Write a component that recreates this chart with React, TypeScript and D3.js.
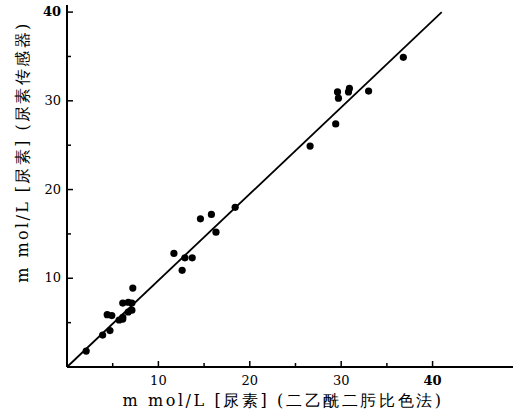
import React, { useRef, useEffect } from "react";
import * as d3 from "d3";

// colorimetric method (x) vs urea sensor (y), mmol/L
const xVals = [2.1, 3.9, 4.7, 4.4, 4.9, 5.7, 6.1, 6.1, 6.7, 7.1, 6.1, 6.7, 7.1, 7.2,
  11.7, 12.6, 12.9, 13.7, 14.6, 15.8, 16.3, 18.4,
  26.6, 29.4, 29.6, 29.7, 30.9, 30.8, 33.0, 36.8];
const yVals = [1.8, 3.6, 4.1, 5.9, 5.8, 5.3, 5.4, 5.6, 6.2, 6.4, 7.2, 7.3, 7.2, 8.9,
  12.8, 10.9, 12.3, 12.3, 16.7, 17.2, 15.2, 18.0,
  24.9, 27.4, 31.0, 30.3, 31.4, 31.0, 31.1, 34.9];
const fitLine = [[0, 0], [41, 40]];
const majorTicks = [10, 20, 30, 40];
const minorTicks = [5, 15, 25, 35];
const xTitle = "m mol/L [尿素] (二乙酰二肟比色法)";
const yTitle = "m mol/L [尿素] (尿素传感器)";

const App = () => {
  const ref = useRef(null);

  useEffect(() => {
    const svg = d3.select(ref.current);
    svg.selectAll("*").remove();

    const x = d3.scaleLinear().domain([0, 48.8]).range([67, 513]);
    const y = d3.scaleLinear().domain([0, 40.8]).range([367, 5]);
    const font = "'DejaVu Serif', serif";

    // axes
    svg.append("line").attr("x1", x(0)).attr("x2", x(48.8))
      .attr("y1", y(0)).attr("y2", y(0)).attr("stroke", "#000").attr("stroke-width", 2);
    svg.append("line").attr("x1", x(0)).attr("x2", x(0))
      .attr("y1", y(0)).attr("y2", y(40.8)).attr("stroke", "#000").attr("stroke-width", 2);

    majorTicks.forEach((t) => {
      svg.append("line").attr("x1", x(t)).attr("x2", x(t))
        .attr("y1", y(0)).attr("y2", y(0) - 6).attr("stroke", "#000").attr("stroke-width", 1.5);
      svg.append("line").attr("x1", x(0)).attr("x2", x(0) + 6)
        .attr("y1", y(t)).attr("y2", y(t)).attr("stroke", "#000").attr("stroke-width", 1.5);
      svg.append("text").attr("x", x(t)).attr("y", y(0) + 18)
        .attr("text-anchor", "middle").attr("font-family", font)
        .attr("font-size", 13).attr("font-weight", t === 40 ? "bold" : "normal").text(t);
      svg.append("text").attr("x", x(0) - 6).attr("y", y(t) + 4)
        .attr("text-anchor", "end").attr("font-family", font)
        .attr("font-size", 13).attr("font-weight", t === 40 ? "bold" : "normal").text(t);
    });
    minorTicks.forEach((t) => {
      svg.append("line").attr("x1", x(t)).attr("x2", x(t))
        .attr("y1", y(0)).attr("y2", y(0) - 4).attr("stroke", "#000").attr("stroke-width", 1.5);
      svg.append("line").attr("x1", x(0)).attr("x2", x(0) + 4)
        .attr("y1", y(t)).attr("y2", y(t)).attr("stroke", "#000").attr("stroke-width", 1.5);
    });

    // regression line
    svg.append("path")
      .attr("d", d3.line().x((d) => x(d[0])).y((d) => y(d[1]))(fitLine))
      .attr("stroke", "#000").attr("stroke-width", 1.8).attr("fill", "none");

    // points
    svg.selectAll("circle.pt").data(xVals).enter()
      .append("circle").attr("class", "pt")
      .attr("cx", (d) => x(d))
      .attr("cy", (d, i) => y(yVals[i]))
      .attr("r", 3.6).attr("fill", "#000");

    // titles
    svg.append("text").attr("x", 283).attr("y", 406)
      .attr("text-anchor", "middle").attr("font-family", font)
      .attr("font-size", 16).attr("letter-spacing", 2.6).text(xTitle);
    svg.append("text")
      .attr("transform", "translate(28,152) rotate(-90)")
      .attr("text-anchor", "middle").attr("font-family", font)
      .attr("font-size", 16).attr("letter-spacing", 2.4).text(yTitle);
  }, []);

  return (
    <svg ref={ref} width={523} height={419}
      style={{ position: "absolute", left: 0, top: 0, background: "#fff" }} />
  );
};

export default App;
